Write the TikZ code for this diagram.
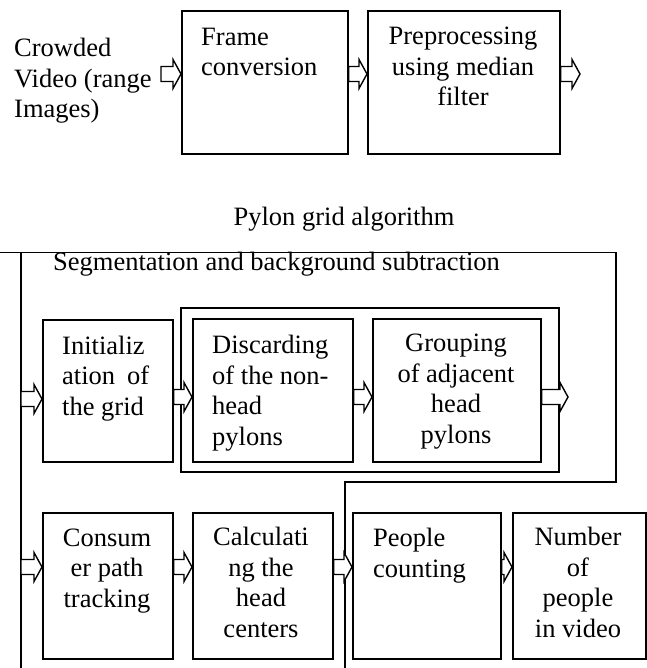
\documentclass[tikz,border=0pt]{standalone}
\usepackage{fontspec}
\setmainfont{Liberation Serif}
\usetikzlibrary{calc}
\begin{document}
\begin{tikzpicture}[x=1pt,y=-1pt,
  box/.style n args={2}{draw, line width=1.6pt, anchor=north west, inner sep=0pt, minimum width=#1, minimum height=#2},
  txt/.style={font=\fontsize{26.5}{30.5}\selectfont, inner sep=0pt},
  ln/.style={line width=1.5pt, line cap=rect},
  barrow/.style={draw, fill=white, line width=1.4pt, line join=miter,
    to path={let \p1=(\tikztostart), \p2=(\tikztotarget) in
      (\x1,\y1+7.5pt) -- (\x2-8pt,\y1+7.5pt) -- (\x2-8pt,\y1+14.5pt) -- (\x2,\y1)
      -- (\x2-8pt,\y1-14.5pt) -- (\x2-8pt,\y1-7.5pt) -- (\x1,\y1-7.5pt) -- cycle}}
]
\useasboundingbox (0,0) rectangle (646,668);

% frame lines
\draw[ln] (0,252.5) -- (616,252.5) -- (616,482) -- (345,482) -- (345,668);
\draw[ln] (21,252.5) -- (21,668);
\draw[ln] (181,308) rectangle (559,472);

% boxes
\node[box={166pt}{143pt}] (frame) at (181,10) {};
\node[box={192pt}{143pt}] (pre) at (367,10) {};
\node[box={130pt}{142pt}] (init) at (42,319) {};
\node[box={160pt}{143pt}] (disc) at (192,318) {};
\node[box={168pt}{143pt}] (group) at (372,318) {};
\node[box={130pt}{146pt}] (cons) at (42,512) {};
\node[box={140pt}{146pt}] (calc) at (192,512) {};
\node[box={148pt}{146pt}] (people) at (352,512) {};
\node[box={133pt}{146pt}] (number) at (512,512) {};

% texts (anchor = baseline of last line)
\node[txt, anchor=base west, align=left] (tcrowd) at (14,118) {Crowded\\Video (range\\Images)};
\node[txt, anchor=base west, align=left] (tframe) at (201,76) {Frame\\conversion};
\node[txt, anchor=base, align=center] (tpre) at (463,106) {Preprocessing\\using median\\filter};
\node[txt, anchor=base] (tpylon) at (344,225) {Pylon grid algorithm};
\node[txt, anchor=base west] (tseg) at (53,270) {Segmentation and background subtraction};
\node[txt, anchor=base west, align=left] (tinit) at (62,415) {Initializ\\ation\hspace{12pt}of\\the grid};
\node[txt, anchor=base west, align=left] (tdisc) at (212,445) {Discarding\\of the non-\\head\\pylons};
\node[txt, anchor=base, align=center] (tgroup) at (456,443) {Grouping\\of adjacent\\head\\pylons};
\node[txt, anchor=base, align=center] (tcons) at (107,607) {Consum\\er path\\tracking};
\node[txt, anchor=base, align=center] (tcalc) at (261,637) {Calculati\\ng the\\head\\centers};
\node[txt, anchor=base west, align=left] (tpeople) at (373,577) {People\\counting};
\node[txt, anchor=base, align=center] (tnum) at (578,637) {Number\\of\\people\\in video};

% level coordinates
\coordinate (r1) at (0,74);
\coordinate (r2) at (0,397);
\coordinate (r3) at (0,567);
\coordinate (cin) at (161,74);
\coordinate (out1) at (580,74);
\coordinate (lft2) at (21,399);
\coordinate (out2) at (568,397);
\coordinate (lft3) at (21,567);

% block arrows
\draw[barrow] (cin) to (frame.west |- r1);
\draw[barrow] (frame.east |- r1) to (pre.west |- r1);
\draw[barrow] (pre.east |- r1) to (out1);
\draw[barrow] (lft2) to (init.west |- lft2);
\draw[barrow] (init.east |- r2) to (disc.west |- r2);
\draw[barrow] (disc.east |- r2) to (group.west |- r2);
\draw[barrow] (group.east |- r2) to (out2);
\draw[barrow] (lft3) to (cons.west |- r3);
\draw[barrow] (cons.east |- r3) to (calc.west |- r3);
\draw[barrow] (calc.east |- r3) to (people.west |- r3);
\draw[barrow] (people.east |- r3) to (number.west |- r3);
\end{tikzpicture}
\end{document}
